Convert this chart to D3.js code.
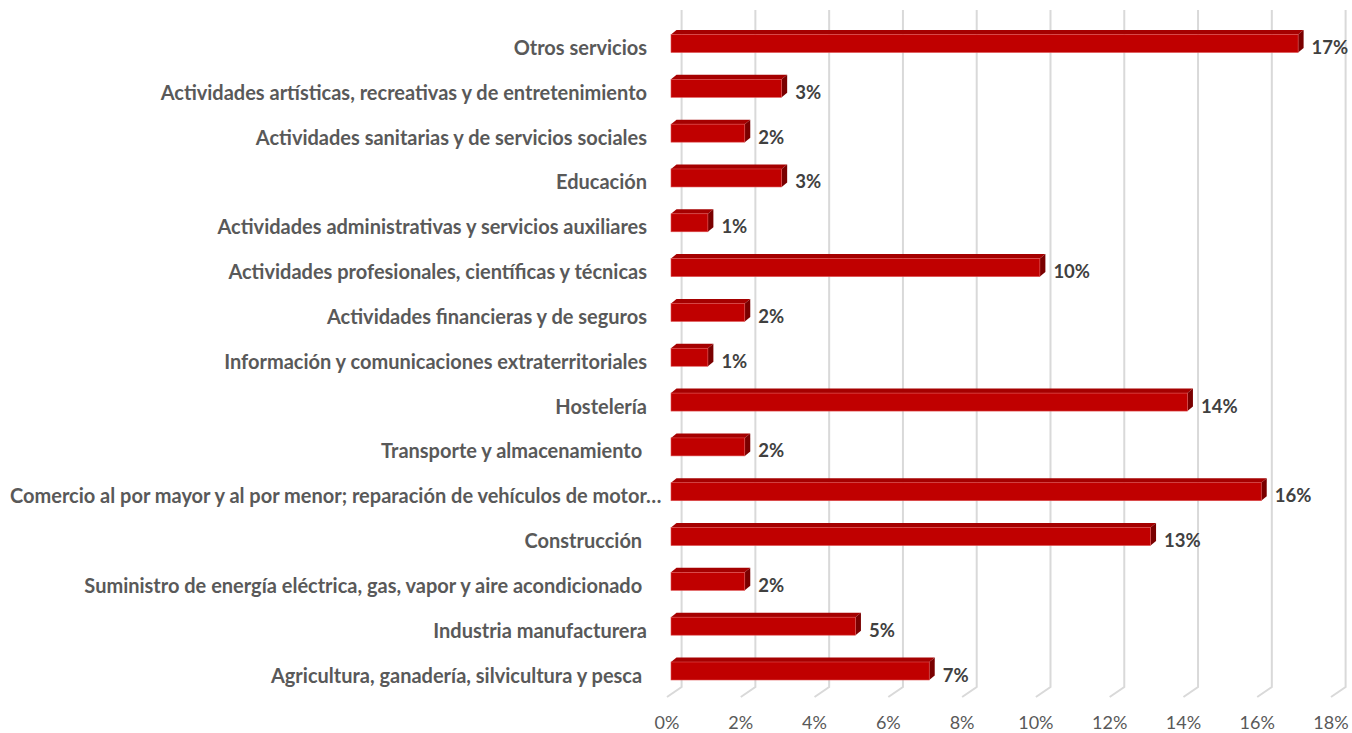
<!DOCTYPE html>
<html><head><meta charset="utf-8">
<script src="https://cdn.jsdelivr.net/npm/d3@7"></script>
<style>body{margin:0;background:#fff}svg{display:block}</style>
</head><body><svg id="c" width="1352" height="733"></svg>
<script>
const categories = [
  "Otros servicios",
  "Actividades artísticas, recreativas y de entretenimiento",
  "Actividades sanitarias y de servicios sociales",
  "Educación",
  "Actividades administrativas y servicios auxiliares",
  "Actividades profesionales, científicas y técnicas",
  "Actividades financieras y de seguros",
  "Información y comunicaciones extraterritoriales",
  "Hostelería",
  "Transporte y almacenamiento ",
  "Comercio al por mayor y al por menor; reparación de vehículos de motor…",
  "Construcción ",
  "Suministro de energía eléctrica, gas, vapor y aire acondicionado ",
  "Industria manufacturera",
  "Agricultura, ganadería, silvicultura y pesca "
];
const values = [17, 3, 2, 3, 1, 10, 2, 1, 14, 2, 16, 13, 2, 5, 7];
const ticks = [0, 2, 4, 6, 8, 10, 12, 14, 16, 18];

const svg = d3.select("#c");
const font = "Lato, 'Open Sans', sans-serif";
const x = d3.scaleLinear().domain([0, 18]).range([671, 1335]);
const y = d3.scalePoint().domain(categories).range([43.5, 671]);

// gridlines (back wall + floor)
const gx = 10.6, gy = 687, fy = 697, fx = -4;
const grid = svg.append("g");
ticks.forEach(t => {
  grid.append("path")
    .attr("d", `M${x(t)+gx},10 L${x(t)+gx},${gy} L${x(t)+fx},${fy}`)
    .attr("fill", "none").attr("stroke", "#d9d9d9").attr("stroke-width", 2);
});

// tick labels
svg.append("g").selectAll("text").data(ticks).join("text")
  .attr("x", d => x(d) - 4).attr("y", 722)
  .attr("text-anchor", "middle").attr("dominant-baseline", "central")
  .attr("font-family", font).attr("font-size", 18).attr("fill", "#595959")
  .text(d => d + "%");

// bars
const h = 18, dx = 5.5, dy = 4.5;
const bars = svg.append("g").selectAll("g").data(categories).join("g");
bars.each(function(c, i) {
  const g = d3.select(this);
  const cy = y(c), top = cy - h/2, bot = cy + h/2;
  const x0 = x(0), x1 = x(values[i]);
  g.append("path").attr("d", `M${x0},${top} L${x0+dx},${top-dy} L${x1+dx},${top-dy} L${x1},${top} Z`)
    .attr("fill", "#a50000");
  g.append("path").attr("d", `M${x1},${top} L${x1+dx},${top-dy} L${x1+dx},${bot-dy} L${x1},${bot} Z`)
    .attr("fill", "#7a0000");
  g.append("rect").attr("x", x0).attr("y", top).attr("width", x1 - x0).attr("height", h)
    .attr("fill", "#c00000").attr("stroke", "#e05050").attr("stroke-width", 0.6);
  g.append("text").attr("x", x1 + dx + 8).attr("y", cy + 3.5)
    .attr("dominant-baseline", "central")
    .attr("font-family", font).attr("font-weight", "bold").attr("font-size", 18.5)
    .attr("fill", "#404040").text(values[i] + "%");
});

// category labels
const lab = svg.append("g").selectAll("text").data(categories).join("text")
  .attr("y", d => y(d) + 3.5).attr("dominant-baseline", "central")
  .attr("font-family", font).attr("font-weight", "bold").attr("font-size", 17)
  .attr("fill", "#595959").style("white-space", "pre").attr("xml:space", "preserve")
  .text(d => d);
// fit font size so the longest label spans ~652px
let maxW = 0;
lab.each(function() { maxW = Math.max(maxW, this.getComputedTextLength()); });
const fs = 17 * 652 / maxW;
lab.attr("font-size", fs);
lab.each(function() {
  const w = this.getComputedTextLength();
  const t = d3.select(this);
  if (647 - w < 10) t.attr("x", 10).attr("text-anchor", "start");
  else t.attr("x", 647).attr("text-anchor", "end");
});
</script></body></html>
